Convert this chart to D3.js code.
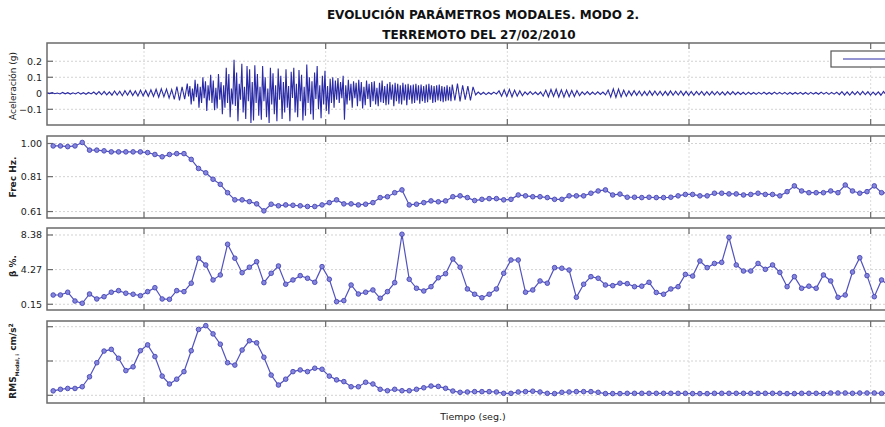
<!DOCTYPE html>
<html>
<head>
<meta charset="utf-8">
<script src="https://cdn.jsdelivr.net/npm/d3@7"></script>
<style>
  body { margin: 0; background: #fff; }
  svg { display: block; }
</style>
</head>
<body>
<script>
// window centres (s), one identified value per window
let tiempo = d3.range(25, 257, 2);

let frecuencia = [
  0.986, 0.986, 0.982, 0.986, 1.006, 0.962, 0.962, 0.958, 0.952, 0.952,
  0.952, 0.952, 0.952, 0.948, 0.937, 0.924, 0.937, 0.942, 0.942, 0.909,
  0.857, 0.832, 0.795, 0.766, 0.718, 0.677, 0.677, 0.667, 0.654, 0.614,
  0.652, 0.643, 0.648, 0.646, 0.643, 0.639, 0.639, 0.648, 0.661, 0.677,
  0.654, 0.654, 0.648, 0.652, 0.661, 0.690, 0.695, 0.718, 0.734, 0.648,
  0.652, 0.661, 0.671, 0.666, 0.671, 0.695, 0.700, 0.690, 0.673, 0.680,
  0.684, 0.684, 0.677, 0.680, 0.705, 0.700, 0.695, 0.695, 0.690, 0.680,
  0.680, 0.700, 0.700, 0.700, 0.715, 0.728, 0.734, 0.705, 0.710, 0.692,
  0.692, 0.690, 0.692, 0.690, 0.690, 0.692, 0.700, 0.708, 0.708, 0.700,
  0.700, 0.715, 0.715, 0.711, 0.711, 0.705, 0.708, 0.715, 0.708, 0.708,
  0.700, 0.724, 0.757, 0.728, 0.718, 0.718, 0.718, 0.728, 0.718, 0.762,
  0.728, 0.715, 0.724, 0.757, 0.718, 0.715
];

let amortiguamiento = [
  1.25, 1.25, 1.58, 0.54, 0.27, 1.37, 0.78, 1.05, 1.58, 1.77,
  1.46, 1.34, 1.17, 1.65, 2.12, 0.78, 0.74, 1.77, 1.65, 2.65,
  5.62, 4.82, 3.04, 3.63, 7.28, 5.62, 3.90, 4.55, 5.21, 2.72,
  3.83, 4.70, 2.53, 3.04, 3.55, 3.24, 2.76, 4.62, 3.12, 0.46,
  0.58, 2.44, 1.37, 1.58, 1.85, 0.86, 1.65, 2.72, 8.47, 3.12,
  2.05, 1.73, 2.24, 3.30, 3.78, 5.53, 4.55, 1.97, 1.34, 0.93,
  1.34, 1.97, 3.83, 5.41, 5.41, 1.58, 1.85, 2.92, 2.65, 4.50,
  4.43, 4.22, 0.98, 2.53, 3.43, 3.24, 2.44, 2.36, 2.65, 2.60,
  2.24, 2.30, 2.76, 1.55, 1.34, 1.97, 2.24, 3.70, 3.50, 5.29,
  4.50, 5.00, 5.13, 8.10, 4.82, 4.10, 4.10, 5.00, 4.30, 4.82,
  3.94, 2.24, 3.43, 2.05, 2.30, 2.05, 3.63, 2.92, 0.98, 1.25,
  3.98, 5.68, 3.55, 1.05, 3.04, 2.40
];

let rmsModal = [
  1.3, 1.75, 2.0, 2.0, 2.5, 5.4, 9.5, 12.9, 13.4, 10.8,
  7.2, 8.3, 13.0, 14.7, 11.3, 5.6, 3.3, 4.7, 6.9, 13.0,
  19.2, 20.3, 17.9, 14.9, 9.5, 8.8, 13.2, 15.9, 15.3, 11.1,
  5.9, 3.0, 4.7, 6.9, 7.4, 6.9, 7.9, 7.6, 5.6, 4.5,
  4.0, 2.5, 2.5, 3.8, 3.3, 1.75, 1.34, 1.75, 1.34, 1.34,
  1.75, 2.2, 2.7, 2.6, 2.04, 1.25, 0.87, 0.97, 1.07, 1.07,
  1.07, 0.97, 0.58, 0.58, 0.97, 1.07, 1.2, 0.97, 0.58, 0.5,
  0.87, 0.97, 1.07, 1.07, 1.07, 0.87, 0.5, 0.5, 0.5, 0.58,
  0.58, 0.58, 0.58, 0.58, 0.58, 0.58, 0.58, 0.58, 0.5, 0.5,
  0.5, 0.58, 0.58, 0.58, 0.58, 0.58, 0.58, 0.58, 0.58, 0.58,
  0.58, 0.5, 0.5, 0.58, 0.58, 0.58, 0.5, 0.67, 0.67, 0.67,
  0.58, 0.67, 0.67, 0.67, 0.58, 0.67
];

// ground acceleration, successive peaks in milli-g
// onset: one peak every 0.715 s from t = 23.3 s
let acelInicio = [
  3, -2, 4, -3, 2, -4, 5, -3, 4, -5, 3, -4, 6, -5, 4, -6, 5, -4,
  8, -7, 10, -9, 12, -10, 9, -12, 14, -11, 13, -15, 16, -12, 18, -14, 15, -17, 20, -16, 18, -19,
  22, -20, 25, -24, 28, -22, 26, -30, 24,
  -38, 42, -45, 40, -36
];
// strong motion: one peak every 0.3575 s
let acelFuerte = [
  60, -20, 45, -70, 30, -50, 85, -25, 60, -90, 40, -60, 100, -30, 75, -110, 50, -45, 115, -60,
  80, -105, 35, -95, 120, -40, 70,
  -130, 50, -90, 160, -60, 120, -150, 30, -70, 210, -80, 130, -175, 60, -40, 185, -120, 40, -160, 170,
  -50, 150, -185, 70, -170,
  175, -60, 120, -140, 40, -165, 170, -50, 100, -150, 30, -185, 160, -70, 125, -130, 50, -175, 155, -40,
  110, -160, 70, -120, 150, -90, 45, -175, 135, -30, 160, -120, 60, -150, 145, -50, 115, -170, 40, -140,
  180, -60, 100, -130, 75, -165, 130, -35, 170, -100, 50, -155, 110, -70, 140, -110, 45, -130, 90, -60,
  100, -90,
  80, -40, 95, -60, 70, -30, 110, -165, 50, -70, 85, -45, 60, -90, 75, -30, 65, -80, 85, -50,
  70, -95, 40, -75, 80, -35, 60, -85, 70, -50, 75, -70, 35, -80, 65, -55, 80, -60, 45, -75,
  60, -70, 70, -40, 55, -80, 65, -50, 60, -65, 50, -70, 65, -45, 55, -75, 60, -40, 50, -65,
  55, -60, 60, -45, 50, -65, 55, -50, 45, -60, 55, -55, 60, -40, 50, -60, 45, -55, 50, -45,
  55, -50, 45, -55, 40, -50, 50, -45, 40, -50
];
// coda: one peak every 0.715 s
let acelFinal = [
  55, -45, 60, -50, 50, -40, 45, -45, 40,
  -10, 8, -7, 6, -8, 5, -6, 7, -5,
  15, -18, 22, -20, 25, -22, 20, -18, 16, -15,
  9, -8, 10, -8, 8, -9, 8,
  -18, 20, -22, 24, -20, 25, -23, 22, -24, 20, -22, 18, -20, 17, -15,
  9, -8, 10, -9, 8, -8, 9, -7, 8, -10,
  20, -24, 28, -25, 26, -22, 20, -18,
  15, -14, 16, -13, 14, -15, 12, -14, 15, -13, 14, -12, 13, -14, 12, -13, 15, -12, 13, -11,
  14, -13, 12, -12, 11, -13, 12, -10, 11, -12, 10, -11, 12, -10, 11, -10, 9, -11, 10, -9,
  10, -9, 8,
  -7, 6, -8, 7, -6, 5, -7, 6, -5, 7, -6, 5, -6, 7, -5, 6, -5, 6, -7, 5,
  -6, 5, -5, 6, -6, 5, -7, 6, -5, 5, -6, 7, -5, 6, -7, 6, -5, 7,
  -9, 10, -11, 9, -12, 10, -8, 11, -10, 12, -9, 10, -11, 8, -10, 9, -12, 11, -9, 10,
  -8, 9, -10, 11, -9, 8, -10
];

let xTicks = [50, 100, 150, 200, 250];
let acelTicks = [-0.1, 0, 0.1, 0.2];
let frecTicks = [0.61, 0.81, 1.00];
let betaTicks = [0.15, 4.27, 8.38];
let rmsTicks = [0, 10, 20];

// assemble the acceleration record (time, g)
let acel = [];
let t = 23.3;
[[acelInicio, 0.715], [acelFuerte, 0.3575], [acelFinal, 0.715]].forEach(function(tramo) {
  tramo[0].forEach(function(v) {
    acel.push({t: t, g: v / 1000});
    t += tramo[1];
  });
});

let lineColor = '#5252bf';
let acelColor = '#2b2ba6';
let frameColor = '#6b6b6b';
let fontFam = '"DejaVu Sans", Verdana, sans-serif';

let svg = d3.select('body').append('svg')
  .attr('width', 885).attr('height', 427)
  .style('font-family', fontFam);

let x = d3.scaleLinear().domain([23.3, 260]).range([47, 907]);

// title
svg.append('text').attr('x', 483).attr('y', 19).attr('text-anchor', 'middle')
  .attr('font-size', '12px').attr('font-weight', 'bold').attr('fill', '#111')
  .text('EVOLUCIÓN PARÁMETROS MODALES. MODO 2.');
svg.append('text').attr('x', 479).attr('y', 39).attr('text-anchor', 'middle')
  .attr('font-size', '12px').attr('font-weight', 'bold').attr('fill', '#111')
  .text('TERREMOTO DEL 27/02/2010');

let panels = [
  {top: 43, dom: [-0.198, 0.314], ticks: acelTicks, fmt: d => d === 0 ? '0' : d3.format('.1f')(d)},
  {top: 136, dom: [0.573, 1.043], ticks: frecTicks, fmt: d3.format('.2f')},
  {top: 228, dom: [-0.53, 9.21], ticks: betaTicks, fmt: d3.format('.2f')},
  {top: 321, dom: [-2.24, 21.66], ticks: rmsTicks, fmt: d => ''}
];
let ph = 82;

panels.forEach(function(p, i) {
  let y = d3.scaleLinear().domain(p.dom).range([p.top + ph, p.top]);
  p.y = y;
  let g = svg.append('g');

  g.append('clipPath').attr('id', 'clip' + i)
    .append('rect').attr('x', 47).attr('y', p.top).attr('width', 870).attr('height', ph);

  // grid
  g.selectAll('.gy').data(p.ticks).enter().append('line')
    .attr('x1', 47).attr('x2', 907)
    .attr('y1', d => y(d)).attr('y2', d => y(d))
    .attr('stroke', '#c8c8c8').attr('stroke-width', 0.8).attr('stroke-dasharray', '2,2');
  g.selectAll('.gx').data(xTicks).enter().append('line')
    .attr('x1', d => x(d)).attr('x2', d => x(d))
    .attr('y1', p.top).attr('y2', p.top + ph)
    .attr('stroke', '#d0d0d0').attr('stroke-width', 0.8).attr('stroke-dasharray', '2,2');

  // y ticks + labels
  g.selectAll('.ty').data(p.ticks).enter().append('line')
    .attr('x1', 47).attr('x2', 53)
    .attr('y1', d => y(d)).attr('y2', d => y(d))
    .attr('stroke', frameColor).attr('stroke-width', 1.2);
  g.selectAll('.ly').data(p.ticks).enter().append('text')
    .attr('x', 42).attr('y', d => y(d) + 3.5)
    .attr('text-anchor', 'end').attr('font-size', '9.5px').attr('fill', '#222')
    .text(p.fmt);

  // x ticks top & bottom
  g.selectAll('.tx').data(xTicks).enter().append('line')
    .attr('x1', d => x(d)).attr('x2', d => x(d))
    .attr('y1', p.top).attr('y2', p.top + 6)
    .attr('stroke', frameColor).attr('stroke-width', 1.2);
  g.selectAll('.bx').data(xTicks).enter().append('line')
    .attr('x1', d => x(d)).attr('x2', d => x(d))
    .attr('y1', p.top + ph).attr('y2', p.top + ph - 6)
    .attr('stroke', frameColor).attr('stroke-width', 1.2);

  p.g = g.append('g').attr('clip-path', 'url(#clip' + i + ')');

  g.append('rect').attr('x', 47).attr('y', p.top).attr('width', 870).attr('height', ph)
    .attr('fill', 'none').attr('stroke', frameColor).attr('stroke-width', 1.5);
});

// acceleration trace
let acelLine = d3.line().x(d => x(d.t)).y(d => panels[0].y(d.g));
panels[0].g.append('path').datum(acel)
  .attr('d', acelLine).attr('fill', 'none')
  .attr('stroke', acelColor).attr('stroke-width', 1.1);

// modal series with markers
[frecuencia, amortiguamiento, rmsModal].forEach(function(serie, j) {
  let p = panels[j + 1];
  let line = d3.line().x((d, i) => x(tiempo[i])).y(d => p.y(d));
  p.g.append('path').datum(serie)
    .attr('d', line).attr('fill', 'none')
    .attr('stroke', lineColor).attr('stroke-width', 1.2);
  p.g.selectAll('circle').data(serie).enter().append('circle')
    .attr('cx', (d, i) => x(tiempo[i])).attr('cy', d => p.y(d))
    .attr('r', 2.3)
    .attr('fill', '#8585de').attr('stroke', '#4646b4').attr('stroke-width', 0.9);
});

// legend (cut at the right edge)
svg.append('rect').attr('x', 831).attr('y', 51).attr('width', 80).attr('height', 16)
  .attr('fill', '#fff').attr('stroke', '#555').attr('stroke-width', 1.2);
svg.append('line').attr('x1', 843).attr('x2', 900).attr('y1', 59).attr('y2', 59)
  .attr('stroke', acelColor).attr('stroke-width', 1);

// axis labels
function yLabel(cx, cy, bold) {
  return svg.append('text')
    .attr('transform', 'translate(' + cx + ',' + cy + ') rotate(-90)')
    .attr('text-anchor', 'middle').attr('font-size', '9px')
    .attr('font-weight', bold ? 'bold' : 'normal').attr('fill', '#222');
}
yLabel(16, 86, false).text('Aceleración (g)');
yLabel(16, 177, true).text('Frec Hz.');
yLabel(16, 266, true).text('β %.');
let rl = yLabel(16, 361, true);
rl.append('tspan').text('RMS');
rl.append('tspan').attr('font-size', '5px').attr('dy', 2.5).text('Modal, i');
rl.append('tspan').attr('dy', -2.5).text(' cm/s');
rl.append('tspan').attr('font-size', '6px').attr('dy', -3).text('2');

svg.append('text').attr('x', 473).attr('y', 420).attr('text-anchor', 'middle')
  .attr('font-size', '9.5px').attr('fill', '#222').text('Tiempo (seg.)');
</script>
</body>
</html>
